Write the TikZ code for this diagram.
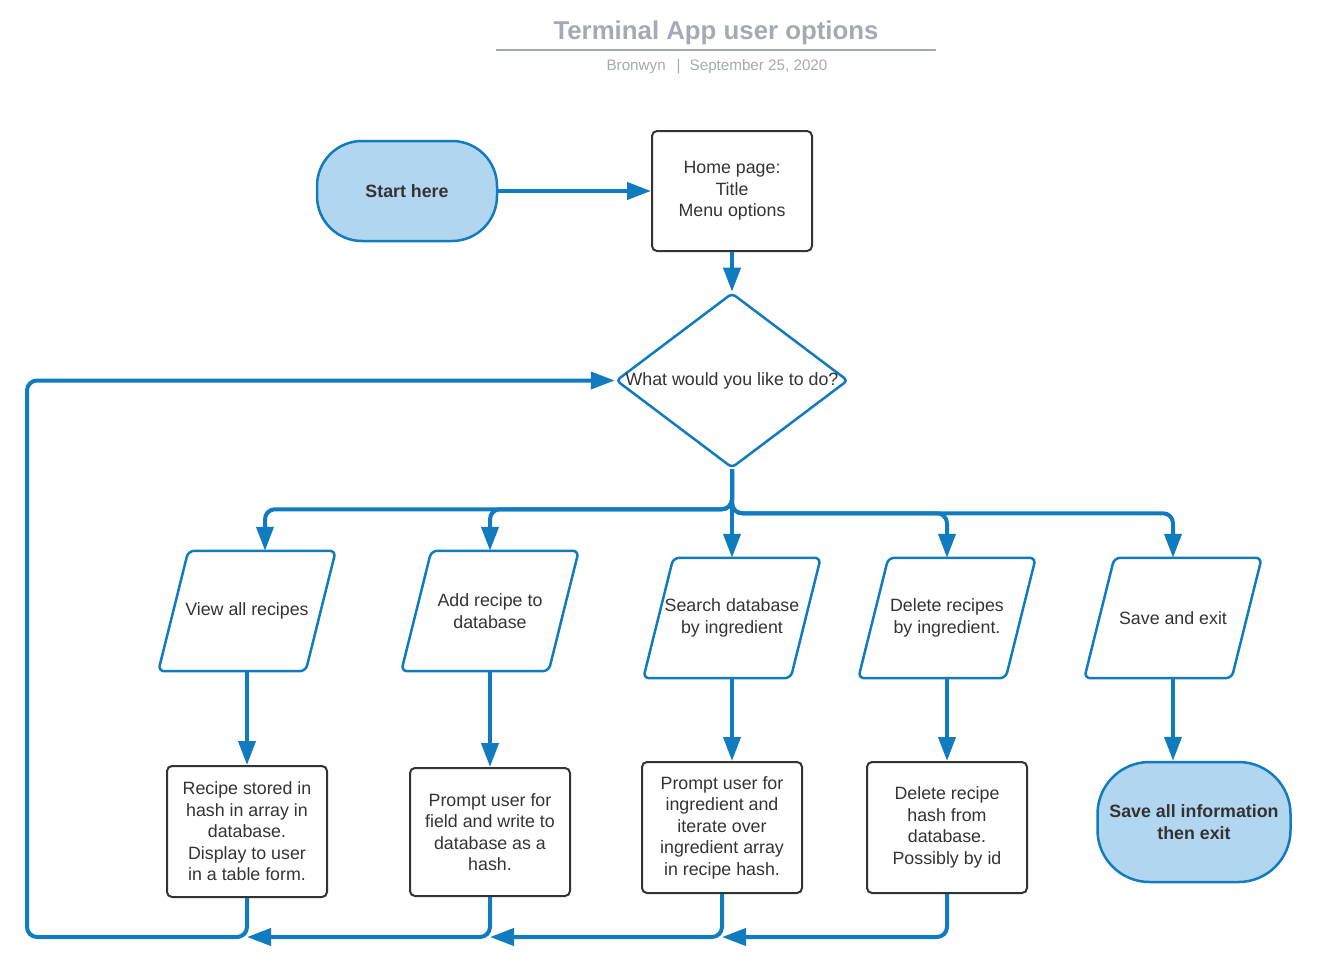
\documentclass[tikz,border=0pt]{standalone}
\usepackage{fontspec}
\setmainfont{Liberation Sans}
\usetikzlibrary{arrows.meta,shapes.geometric}
\definecolor{lineblue}{HTML}{107BBF}
\definecolor{fillblue}{HTML}{B2D6F0}
\definecolor{inkgray}{HTML}{333333}
\definecolor{titlegray}{HTML}{A4A9B3}
\tikzset{
  flow/.style={draw=lineblue, line width=4pt, rounded corners=10pt,
    -{Triangle[length=24pt,width=17pt]}},
  terminal/.style={rectangle, draw=lineblue, fill=fillblue, line width=2.5pt,
    text=inkgray, font=\bfseries\fontsize{17.8}{21.5}\selectfont, align=center},
  procbox/.style={rectangle, rounded corners=5pt, draw=inkgray, line width=2pt,
    minimum width=160pt, minimum height=130pt, inner sep=0pt, align=center},
  iobox/.style={rectangle, minimum width=147pt, minimum height=120pt,
    inner sep=0pt, align=center},
  ioline/.style={draw=lineblue, line width=2.5pt, rounded corners=6pt},
  choice/.style={diamond, draw=lineblue, line width=2.5pt, rounded corners=4pt,
    minimum width=232pt, minimum height=175pt, inner sep=0pt}
}
\begin{document}
\begin{tikzpicture}[x=1pt, y=-1pt, text=inkgray,
    font=\fontsize{17.8}{21.5}\selectfont]
  \useasboundingbox (0,0) rectangle (1317,969);
  % title block
  \node[text=titlegray, font=\bfseries\fontsize{25.8}{30}\selectfont] (title) at (716,33)
    {Terminal App user options};
  \draw[titlegray, line width=2pt] (496,50) -- (936,50);
  \node[text=titlegray, font=\fontsize{15.2}{18}\selectfont] (byline) at (717,67)
    {Bronwyn\hspace{11pt}|\hspace{9pt}September 25, 2020};
  % top
  \node[terminal, minimum width=180pt, minimum height=100pt, rounded corners=45pt]
    (start) at (407,191) {Start here};
  \node[procbox, minimum height=120pt] (home) at (732,191)
    {Home page:\\Title\\Menu options};
  \node[choice, label={center:What would you like to do?}] (q) at (732,380.5) {};
  \draw[flow] (start) -- (home);
  \draw[flow] (home) -- (q);
  % options
  \node[iobox] (view) at (247,611) {View all recipes};
  \node[iobox] (add) at (490,611) {Add recipe to\\database};
  \node[iobox] (search) at (732,618) {Search database\\by ingredient};
  \node[iobox] (del) at (947,618) {Delete recipes\\by ingredient.};
  \node[iobox] (save) at (1173,618) {Save and exit};
  \foreach \n in {view,add,search,del,save}
    \draw[ioline] ([xshift=-15pt]\n.south west) -- ([xshift=-15pt]\n.south east)
      -- ([xshift=15pt]\n.north east) -- ([xshift=15pt]\n.north west) -- cycle;
  \draw[flow] (q.south) -- ++(0,40) -| ([xshift=18pt]view.north);
  \draw[flow] (q.south) -- ++(0,40) -| (add.north);
  \draw[flow] (q.south) -- (search.north);
  \draw[flow] (q.south) -- ++(0,44) -| (del.north);
  \draw[flow] (q.south) -- ++(0,44) -| (save.north);
  % results
  \node[procbox, minimum height=131pt] (stored) at (247,831.5)
    {Recipe stored in\\hash in array in\\database.\\Display to user\\in a table form.};
  \node[procbox, minimum height=128pt] (write) at (490,832)
    {Prompt user for\\field and write to\\database as a\\hash.};
  \node[procbox, minimum height=131pt] (iter) at (722,827.5)
    {Prompt user for\\ingredient and\\iterate over\\ingredient array\\in recipe hash.};
  \node[procbox, minimum height=131pt] (remove) at (947,827.5)
    {Delete recipe\\hash from\\database.\\Possibly by id};
  \node[terminal, minimum width=193pt, minimum height=120pt, rounded corners=52pt]
    (exit) at (1194,822) {Save all information\\then exit};
  \draw[flow] (view.south) -- (view.south |- stored.north);
  \draw[flow] (add.south) -- (add.south |- write.north);
  \draw[flow] (search.south) -- (search.south |- iter.north);
  \draw[flow] (del.south) -- (del.south |- remove.north);
  \draw[flow] (save.south) -- (save.south |- exit.north);
  % back to the menu
  \coordinate (back) at (27,937);
  \draw[flow] (stored.south) |- (back) |- (q.west);
  \draw[flow] (write.south) |- (stored.south |- back);
  \draw[flow] (iter.south) |- (write.south |- back);
  \draw[flow] (remove.south) |- (iter.south |- back);
\end{tikzpicture}
\end{document}
